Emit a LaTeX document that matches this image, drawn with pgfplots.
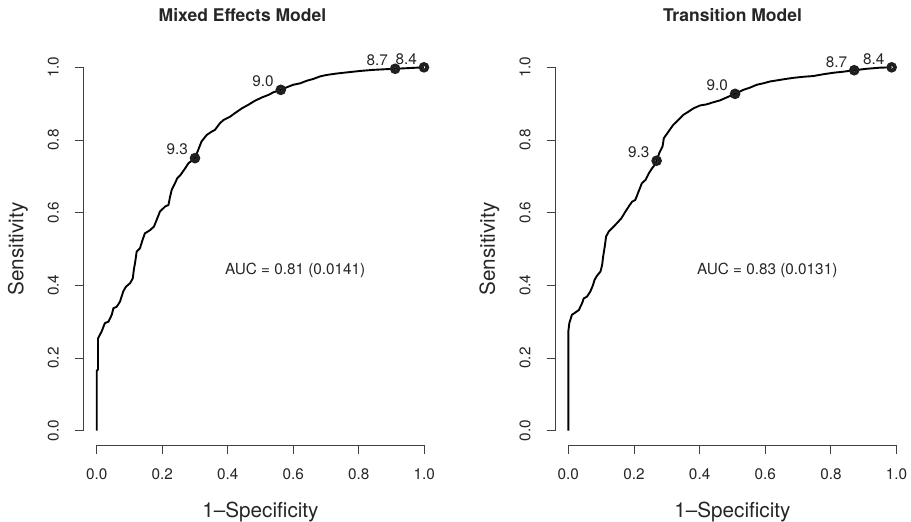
\documentclass[border=0pt]{standalone}
\usepackage{pgfplots}
\pgfplotsset{compat=1.18}
\usepackage{fontspec}
\setmainfont{TeX Gyre Heros}
\definecolor{axgray}{gray}{0.25}
\definecolor{txtgray}{gray}{0.15}
\pgfplotsset{
  rocax/.style={
    scale only axis, width=353.8pt, height=392.4pt,
    xmin=-0.04, xmax=1.04, ymin=-0.04, ymax=1.04,
    clip=false,
    axis line style={draw=none},
    xtick={0,0.2,0.4,0.6,0.8,1}, xticklabels={0.0,0.2,0.4,0.6,0.8,1.0},
    ytick={0,0.2,0.4,0.6,0.8,1}, yticklabels={0.0,0.2,0.4,0.6,0.8,1.0},
    xtick pos=left, ytick pos=left,
    tick align=outside, major tick length=8.5pt,
    tick style={axgray, line width=0.9pt},
    ticklabel style={font=\fontsize{15.3}{18}\selectfont, text=txtgray, inner sep=0pt},
    xticklabel style={anchor=north},
    yticklabel style={rotate=90, anchor=south},
    xticklabel shift=14.6pt,
    yticklabel shift=16pt,
    label style={font=\fontsize{20.7}{24}\selectfont, text=txtgray, inner sep=0pt},
    xlabel={1--Specificity},
    ylabel={Sensitivity},
    xlabel style={at={(axis description cs:0.5,-0.1843)}, anchor=base},
    ylabel style={at={(axis description cs:-0.1704,0.5)}, anchor=base, rotate=0},
  },
  roccurve/.style={black, line width=1.9pt, line join=round, mark=none},
  rocpts/.style={only marks, mark=o, mark size=3.3pt, mark options={draw=black!88, fill=white, line width=3.8pt}},
}
\newcommand{\ptlab}[3]{\node[anchor=base east, inner sep=0pt, xshift=-7pt, yshift=3.2pt, font=\fontsize{15.3}{18}\selectfont, text=txtgray] at (axis cs:#1,#2) {#3};}
\begin{document}
\begin{tikzpicture}
\useasboundingbox (0,0) rectangle (911pt,522pt);
% ---------------- left panel ----------------
\begin{axis}[rocax, at={(83.6pt,76.8pt)}, anchor=south west]
\draw[axgray, line width=0.9pt] (axis cs:0,-0.04) -- (axis cs:1,-0.04);
\draw[axgray, line width=0.9pt] (axis cs:-0.04,0) -- (axis cs:-0.04,1);
\addplot[roccurve] table {
x y
0 0
0 0.165
0.004 0.168
0.004 0.254
0.015 0.273
0.025 0.296
0.036 0.300
0.046 0.319
0.051 0.337
0.061 0.341
0.071 0.355
0.076 0.369
0.081 0.383
0.089 0.396
0.102 0.406
0.110 0.419
0.114 0.447
0.117 0.461
0.122 0.493
0.132 0.502
0.140 0.525
0.147 0.543
0.163 0.552
0.175 0.562
0.183 0.580
0.193 0.603
0.209 0.617
0.219 0.621
0.224 0.644
0.229 0.663
0.239 0.681
0.246 0.695
0.256 0.704
0.270 0.722
0.280 0.736
0.300 0.750
0.310 0.773
0.320 0.796
0.336 0.814
0.351 0.823
0.361 0.828
0.376 0.846
0.387 0.855
0.407 0.864
0.422 0.874
0.443 0.887
0.463 0.897
0.483 0.908
0.504 0.917
0.524 0.924
0.539 0.931
0.562 0.938
0.580 0.945
0.600 0.952
0.621 0.956
0.641 0.963
0.661 0.968
0.682 0.975
0.702 0.979
0.733 0.983
0.763 0.986
0.804 0.990
0.844 0.993
0.885 0.995
0.911 0.996
0.999 1.0
};
\addplot[rocpts] table {
x y
0.300 0.750
0.562 0.938
0.911 0.996
0.999 1.0
};
\ptlab{0.300}{0.750}{9.3}
\ptlab{0.562}{0.938}{9.0}
\ptlab{0.911}{0.996}{8.7}
\ptlab{0.999}{1.0}{8.4}
\node[anchor=base, inner sep=0pt, font=\fontsize{15.3}{18}\selectfont, text=txtgray] at (axis cs:0.606,0.431) {AUC = 0.81 (0.0141)};
\node[anchor=base, inner sep=0pt, font=\bfseries\fontsize{17.5}{21}\selectfont, text=txtgray] at (axis description cs:0.449,1.0793) {Mixed Effects Model};
\end{axis}
% ---------------- right panel ----------------
\begin{axis}[rocax, width=354.5pt, at={(555.2pt,76.8pt)}, anchor=south west]
\draw[axgray, line width=0.9pt] (axis cs:0,-0.04) -- (axis cs:1,-0.04);
\draw[axgray, line width=0.9pt] (axis cs:-0.04,0) -- (axis cs:-0.04,1);
\addplot[roccurve] table {
x y
0 0
0 0.273
0.003 0.296
0.011 0.319
0.021 0.325
0.032 0.332
0.042 0.351
0.047 0.364
0.057 0.369
0.067 0.383
0.074 0.398
0.080 0.415
0.087 0.426
0.098 0.438
0.103 0.456
0.106 0.479
0.111 0.507
0.115 0.534
0.123 0.548
0.133 0.557
0.148 0.571
0.162 0.585
0.174 0.603
0.184 0.617
0.194 0.630
0.204 0.635
0.214 0.658
0.224 0.681
0.235 0.690
0.245 0.708
0.255 0.722
0.263 0.731
0.269 0.743
0.277 0.764
0.287 0.782
0.291 0.805
0.305 0.823
0.320 0.842
0.335 0.855
0.350 0.869
0.366 0.878
0.381 0.887
0.401 0.895
0.421 0.898
0.442 0.904
0.462 0.909
0.482 0.917
0.508 0.927
0.533 0.938
0.553 0.944
0.574 0.952
0.594 0.956
0.614 0.961
0.635 0.964
0.655 0.967
0.685 0.971
0.716 0.974
0.746 0.976
0.777 0.981
0.807 0.985
0.838 0.988
0.871 0.992
0.909 0.996
0.949 0.999
0.985 1.0
};
\addplot[rocpts] table {
x y
0.269 0.743
0.508 0.927
0.871 0.992
0.985 1.0
};
\ptlab{0.269}{0.743}{9.3}
\ptlab{0.508}{0.927}{9.0}
\ptlab{0.871}{0.992}{8.7}
\ptlab{0.985}{1.0}{8.4}
\node[anchor=base, inner sep=0pt, font=\fontsize{15.3}{18}\selectfont, text=txtgray] at (axis cs:0.606,0.431) {AUC = 0.83 (0.0131)};
\node[anchor=base, inner sep=0pt, font=\bfseries\fontsize{17.5}{21}\selectfont, text=txtgray] at (axis description cs:0.5,1.0793) {Transition Model};
\end{axis}
\end{tikzpicture}
\end{document}
